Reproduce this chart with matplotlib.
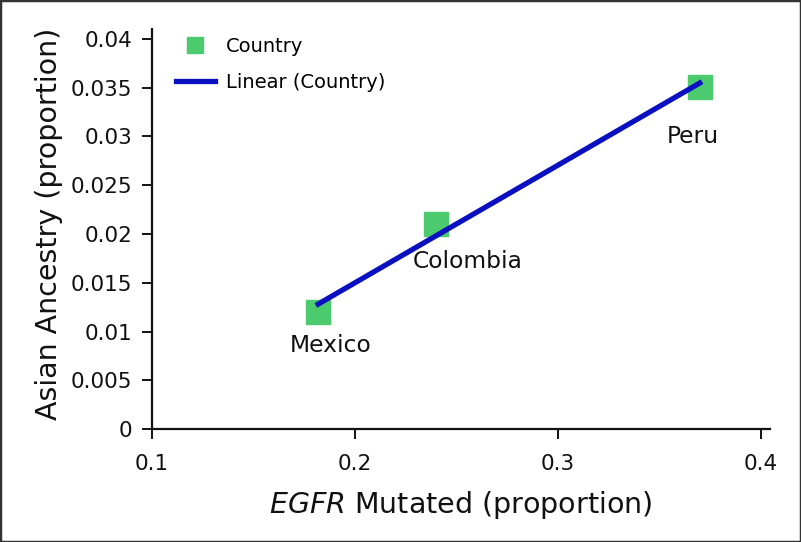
import numpy as np
import matplotlib
matplotlib.use('Agg')
import matplotlib.pyplot as plt
from matplotlib import font_manager
from matplotlib.patches import Rectangle
from matplotlib.ticker import FuncFormatter


countries = ['Mexico', 'Colombia', 'Peru']
egfr_mutated = [0.182, 0.240, 0.370]
asian_ancestry = [0.0120, 0.0210, 0.0351]
label_offsets = [(9, -24), (23, -27), (-5, -36)]   # points, text relative to marker

x_ticks = [0.1, 0.2, 0.3, 0.4]
y_ticks = [0, 0.005, 0.01, 0.015, 0.02, 0.025, 0.03, 0.035, 0.04]

GREEN = '#4ccb6e'
BLUE = '#0a0fc0'

# axis titles use a narrow face in the original
installed = {f.name for f in font_manager.fontManager.ttflist}
if 'Liberation Sans Narrow' in installed:
    narrow = 'Liberation Sans Narrow'
    label_size = 26
else:
    narrow = 'DejaVu Sans'
    label_size = 20.5

plt.rcParams['font.family'] = 'DejaVu Sans'
plt.rcParams['mathtext.fontset'] = 'custom'
plt.rcParams['mathtext.rm'] = narrow
plt.rcParams['mathtext.it'] = narrow + ':italic'

fig = plt.figure(figsize=(8.01, 5.42), dpi=100)
ax = fig.add_axes([151.7 / 801, 1 - 429.3 / 542, (770 - 151.7) / 801, (429.3 - 29) / 542])

ax.plot(egfr_mutated, asian_ancestry, 's', ms=17.3, color=GREEN, label='Country', zorder=2)

slope, intercept = np.polyfit(egfr_mutated, asian_ancestry, 1)
fit_x = np.array([min(egfr_mutated), max(egfr_mutated)])
ax.plot(fit_x, slope * fit_x + intercept, color=BLUE, lw=3.8, label='Linear (Country)', zorder=3)

for name, x, y, off in zip(countries, egfr_mutated, asian_ancestry, label_offsets):
    ax.annotate(name, (x, y), xytext=off, textcoords='offset points',
                ha='center', va='center', fontsize=16.8, color='#111111')

ax.set_xlim(0.1, 0.4046)
ax.set_ylim(0, 0.041)
ax.set_xticks(x_ticks)
ax.set_yticks(y_ticks)
fmt = FuncFormatter(lambda v, p: '%g' % v)
ax.xaxis.set_major_formatter(fmt)
ax.yaxis.set_major_formatter(fmt)

for s in ['top', 'right']:
    ax.spines[s].set_visible(False)
for s in ['left', 'bottom']:
    ax.spines[s].set_linewidth(1.6)
    ax.spines[s].set_color('#111111')
ax.tick_params(axis='both', direction='out', length=7, width=1.4, color='#111111',
               labelsize=15.5, labelcolor='#111111')
ax.tick_params(axis='y', pad=7)
ax.tick_params(axis='x', pad=11)

ax.set_xlabel(r'$\mathit{EGFR}$ Mutated (proportion)', fontsize=label_size,
              family=narrow, color='#111111')
ax.set_ylabel('Asian Ancestry (proportion)', fontsize=label_size,
              family=narrow, color='#111111')
ax.xaxis.set_label_coords(0.5, -0.15)
ax.yaxis.set_label_coords(-0.144, 0.512)

leg = ax.legend(loc='upper left', bbox_to_anchor=(176 / 801, 1 - 37 / 542),
                bbox_transform=fig.transFigure, frameon=False, fontsize=14,
                markerscale=0.68, handlelength=2.0, handletextpad=0.55,
                labelspacing=0.85, borderpad=0, borderaxespad=0, numpoints=1)

fig.add_artist(Rectangle((0, 0), 1, 1, transform=fig.transFigure, fill=False,
                         lw=2.5, ec='#333333', clip_on=False))

fig.savefig('out.png', dpi=100)
